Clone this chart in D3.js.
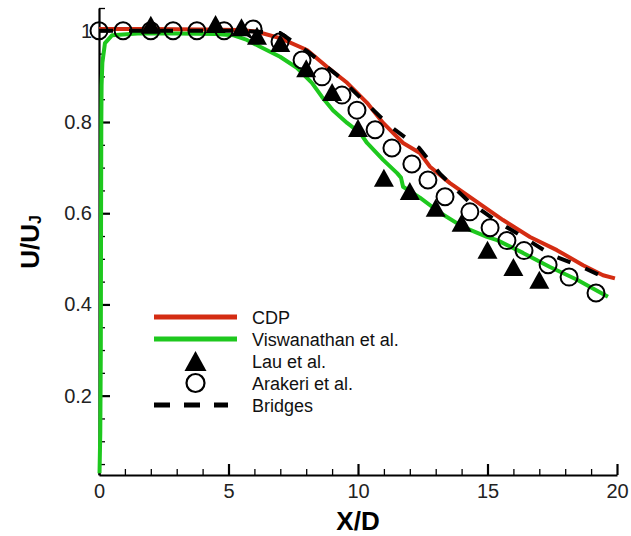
<!DOCTYPE html>
<html>
<head>
<meta charset="utf-8">
<script src="https://cdn.jsdelivr.net/npm/d3@7"></script>
<style>
  html, body { margin: 0; padding: 0; background: #fff; }
  svg { display: block; }
</style>
</head>
<body>
<svg id="chart" width="631" height="536"></svg>
<script>
// ---------------- data ----------------
const xMajorTicks = [0, 5, 10, 15, 20];
const xTickLabels = ["0", "5", "10", "15", "20"];
const yMajorTicks = [0.2, 0.4, 0.6, 0.8, 1.0];
const yTickLabels = ["0.2", "0.4", "0.6", "0.8", "1"];
const xMinorTicks = [1,2,3,4,6,7,8,9,11,12,13,14,16,17,18,19];
const yMinorTicks = [0.05,0.1,0.15,0.25,0.3,0.35,0.45,0.5,0.55,0.65,0.7,0.75,0.85,0.9,0.95,1.05];

const legendLabels = ["CDP", "Viswanathan et al.", "Lau et al.", "Arakeri et al.", "Bridges"];

// CDP (red line)
const cdpX = [0, 2, 4, 5.44, 6.1, 6.99, 8.03, 8.8, 9.58, 10.35, 10.97, 11.74, 12.39, 12.78, 13.55, 14.59, 15.6, 16.64, 17.68, 18.69, 19.46, 19.92];
const cdpY = [1.004, 1.004, 1.003, 1.002, 0.998, 0.984, 0.958, 0.921, 0.886, 0.842, 0.798, 0.754, 0.732, 0.702, 0.666, 0.625, 0.585, 0.548, 0.519, 0.486, 0.464, 0.457];

// Viswanathan et al. (green line)
const visX = [0.02, 0.05, 0.07, 0.08, 0.09, 0.1, 0.13, 0.23, 0.5, 1.5, 3, 4.5, 5.2, 5.71, 6.22, 6.99, 7.64, 8.22, 8.61, 9.03, 9.58, 10.08, 10.35, 10.97, 11.51, 11.66, 11.74, 12.12, 12.39, 13.17, 14.05, 14.98, 15.37, 16.37, 17.41, 18.46, 19.65];
const visY = [0.03, 0.12, 0.3, 0.6, 0.8, 0.88, 0.93, 0.973, 0.99, 0.994, 0.994, 0.993, 0.99, 0.98, 0.965, 0.943, 0.919, 0.886, 0.855, 0.826, 0.798, 0.776, 0.754, 0.717, 0.688, 0.678, 0.658, 0.644, 0.634, 0.601, 0.57, 0.548, 0.541, 0.513, 0.482, 0.454, 0.417];

// Lau et al. (filled triangles)
const lauX = [2, 4.5, 5.5, 6.1, 7, 8, 9, 10, 11, 12, 13, 14, 15, 16, 17];
const lauY = [1.013, 1.015, 1.008, 0.989, 0.973, 0.918, 0.866, 0.787, 0.678, 0.649, 0.612, 0.579, 0.52, 0.482, 0.454];

// Arakeri et al. (open circles)
const araX = [0, 0.93, 2, 2.86, 3.78, 4.83, 5.95, 6.99, 7.84, 8.61, 9.38, 9.96, 10.66, 11.31, 12.08, 12.7, 13.36, 14.32, 15.1, 15.75, 16.41, 17.34, 18.15, 19.19];
const araY = [1.0, 1.0, 1.0, 1.0, 1.0, 1.0, 1.004, 0.976, 0.936, 0.899, 0.859, 0.826, 0.783, 0.743, 0.708, 0.673, 0.636, 0.603, 0.568, 0.54, 0.518, 0.487, 0.46, 0.425];

// Bridges (dashed line)
const briX = [0, 3, 5.5, 6.99, 8.07, 9.19, 10.19, 11.24, 12.36, 13.17, 14.25, 15.29, 16.37, 17.49, 18.65, 19.73];
const briY = [1.0, 1.0, 1.0, 0.995, 0.954, 0.903, 0.848, 0.791, 0.743, 0.686, 0.627, 0.585, 0.548, 0.508, 0.482, 0.454];

// ---------------- drawing ----------------
const RED = "#d42c12", GREEN = "#1ec81e";
const svg = d3.select("#chart");
const x = d3.scaleLinear().domain([0, 20]).range([99, 617]);
const y = d3.scaleLinear().domain([0.026, 1.05]).range([475, 8]);
const tickFont = "Liberation Sans, Arial, sans-serif";

// minor ticks
svg.append("g").attr("transform", `translate(0,${y.range()[0]})`)
  .call(d3.axisBottom(x).tickValues(xMinorTicks).tickSizeInner(-6).tickSizeOuter(0).tickFormat(""))
  .call(g => g.select(".domain").remove())
  .call(g => g.selectAll("line").attr("stroke", "#000").attr("stroke-width", 1.3));
svg.append("g").attr("transform", `translate(${x.range()[0]},0)`)
  .call(d3.axisLeft(y).tickValues(yMinorTicks).tickSizeInner(-6).tickSizeOuter(0).tickFormat(""))
  .call(g => g.select(".domain").remove())
  .call(g => g.selectAll("line").attr("stroke", "#000").attr("stroke-width", 1.3));

// major axes
const xAxis = svg.append("g").attr("transform", `translate(0,${y.range()[0]})`)
  .call(d3.axisBottom(x).tickValues(xMajorTicks).tickSizeInner(-11).tickSizeOuter(0).tickPadding(9)
    .tickFormat((d, i) => xTickLabels[i]));
xAxis.select(".domain").attr("stroke-width", 2.2);
xAxis.selectAll("line").attr("stroke-width", 2.2);
xAxis.selectAll("text").attr("font-family", tickFont).attr("font-size", 20).attr("fill", "#222");

const yAxis = svg.append("g").attr("transform", `translate(${x.range()[0]},0)`)
  .call(d3.axisLeft(y).tickValues(yMajorTicks).tickSizeInner(-11).tickSizeOuter(0).tickPadding(7)
    .tickFormat((d, i) => yTickLabels[i]));
yAxis.select(".domain").attr("stroke-width", 2.2);
yAxis.selectAll("line").attr("stroke-width", 2.2);
yAxis.selectAll("text").attr("font-family", tickFont).attr("font-size", 20).attr("fill", "#222");

// axis titles
svg.append("text").attr("x", x(10)).attr("y", 530).attr("text-anchor", "middle")
  .attr("font-family", "Liberation Sans, Arial, sans-serif").attr("font-weight", "bold")
  .attr("font-size", 26).text("X/D");
const yt = svg.append("text").attr("transform", "translate(39,242) rotate(-90)")
  .attr("text-anchor", "middle")
  .attr("font-family", "Liberation Sans, Arial, sans-serif").attr("font-weight", "bold")
  .attr("font-size", 26);
yt.append("tspan").text("U/U");
yt.append("tspan").attr("font-size", 16).attr("dy", 2).text("J");

// lines
const line = d3.line().x(d => x(d[0])).y(d => y(d[1])).curve(d3.curveLinear);
const zip = (a, b) => a.map((v, i) => [v, b[i]]);

svg.append("path").datum(zip(cdpX, cdpY)).attr("d", line)
  .attr("fill", "none").attr("stroke", RED).attr("stroke-width", 4).attr("stroke-linejoin", "round");
svg.append("path").datum(zip(visX, visY)).attr("d", line)
  .attr("fill", "none").attr("stroke", GREEN).attr("stroke-width", 4).attr("stroke-linejoin", "round");
svg.append("path").datum(zip(briX, briY)).attr("d", line)
  .attr("fill", "none").attr("stroke", "#000").attr("stroke-width", 4).attr("stroke-dasharray", "14,16");

// triangle symbol centered on its bounding box
const triBox = {
  draw(ctx, size) {
    const w = Math.sqrt(size * 2 / 0.9); // width, height = 0.9*width
    const h = 0.9 * w;
    ctx.moveTo(0, -h / 2);
    ctx.lineTo(w / 2, h / 2);
    ctx.lineTo(-w / 2, h / 2);
    ctx.closePath();
  }
};
const triSize = 0.9 * 20 * 20 / 2;

// circles
svg.append("g").selectAll("circle").data(zip(araX, araY)).join("circle")
  .attr("cx", d => x(d[0])).attr("cy", d => y(d[1])).attr("r", 8.5)
  .attr("fill", "none").attr("stroke", "#000").attr("stroke-width", 2);
// triangles
svg.append("g").selectAll("path").data(zip(lauX, lauY)).join("path")
  .attr("transform", d => `translate(${x(d[0])},${y(d[1])})`)
  .attr("d", d3.symbol(triBox, triSize)).attr("fill", "#000");

// legend
const lg = svg.append("g");
const ly = [317, 339, 361, 383, 405];
const lx0 = 154, lx1 = 237, ltx = 252;
lg.append("line").attr("x1", lx0).attr("x2", lx1).attr("y1", ly[0]).attr("y2", ly[0])
  .attr("stroke", RED).attr("stroke-width", 5);
lg.append("line").attr("x1", lx0).attr("x2", lx1).attr("y1", ly[1]).attr("y2", ly[1])
  .attr("stroke", GREEN).attr("stroke-width", 5);
lg.append("path").attr("transform", `translate(${(lx0 + lx1) / 2},${ly[2]})`)
  .attr("d", d3.symbol(triBox, 0.9 * 22 * 22 / 2)).attr("fill", "#000");
lg.append("circle").attr("cx", (lx0 + lx1) / 2).attr("cy", ly[3]).attr("r", 9)
  .attr("fill", "none").attr("stroke", "#000").attr("stroke-width", 2.2);
lg.append("line").attr("x1", lx0).attr("x2", 228).attr("y1", ly[4]).attr("y2", ly[4])
  .attr("stroke", "#000").attr("stroke-width", 5).attr("stroke-dasharray", "16,14");
lg.selectAll("text").data(legendLabels).join("text")
  .attr("x", ltx).attr("y", (d, i) => ly[i] + 6.5)
  .attr("font-family", "Liberation Sans, Arial, sans-serif").attr("font-size", 18)
  .attr("fill", "#111").text(d => d);
</script>
</body>
</html>
